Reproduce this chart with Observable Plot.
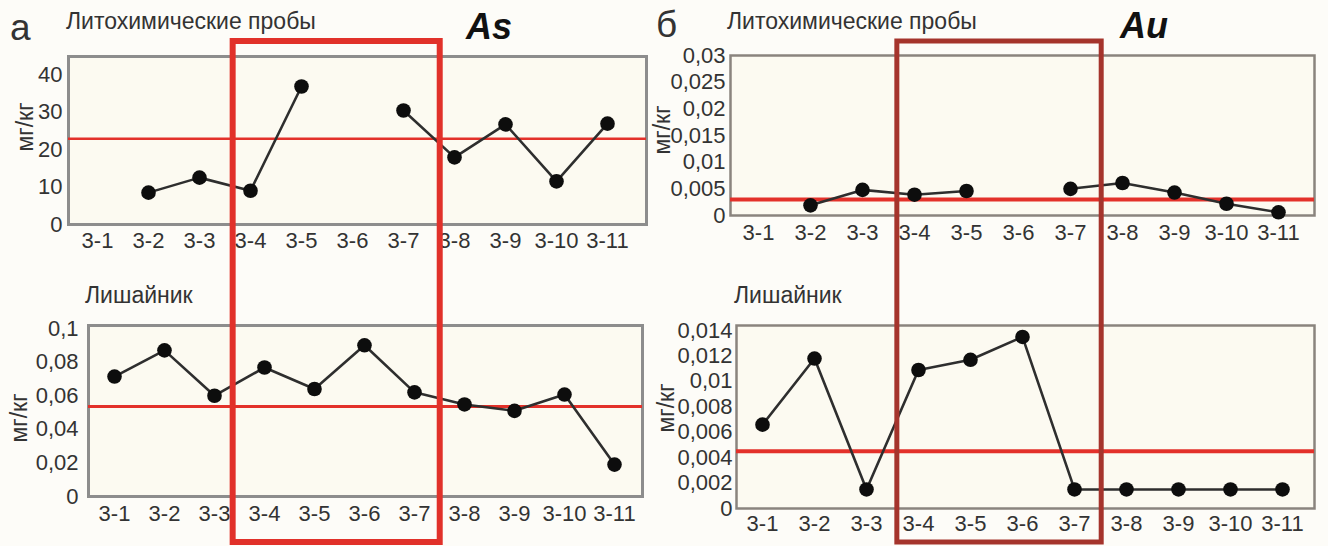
<!DOCTYPE html>
<html>
<head>
<meta charset="utf-8">
<script src="https://cdn.jsdelivr.net/npm/d3@7"></script>
<script src="https://cdn.jsdelivr.net/npm/@observablehq/plot@0.6"></script>
<style>
  html, body { margin: 0; padding: 0; background: #fdfcf8; }
  #page { position: relative; width: 1328px; height: 546px; overflow: hidden; background: #fdfcf8;
          font-family: "Liberation Sans", Arial, sans-serif; color: #333; }
  .panel { position: absolute; }
  .panel svg { overflow: visible; }
  .t { position: absolute; white-space: nowrap; line-height: 1; }
  .ylab { position: absolute; white-space: nowrap; font-size: 23px; line-height: 1;
          transform: translate(-50%, -50%) rotate(-90deg); }
</style>
</head>
<body>
<div id="page"></div>
<script>
// ---------- data ----------
const categories = ["3-1","3-2","3-3","3-4","3-5","3-6","3-7","3-8","3-9","3-10","3-11"];
// As, lithochemical samples (mg/kg); null = no sample
const asLitho  = [null, 8.5, 12.5, 9.0, 36.8, null, 30.4, 17.9, 26.7, 11.5, 26.9];
// As, lichen (mg/kg)
const asLichen = [0.0714, 0.087, 0.060, 0.0768, 0.064, 0.090, 0.062, 0.0548, 0.051, 0.0607, 0.019];
// Au, lithochemical samples (mg/kg)
const auLitho  = [null, 0.0019, 0.0048, 0.0039, 0.0046, null, 0.0050, 0.0061, 0.0043, 0.0022, 0.0006];
// Au, lichen (mg/kg)
const auLichen = [0.0066, 0.0118, 0.0015, 0.0109, 0.0117, 0.0135, 0.0015, 0.0015, 0.0015, 0.0015, 0.0015];
// background (threshold) levels, red horizontal lines
const asLithoLevel = 22.9;
const asLichenLevel = 0.0536;
const auLithoLevel = 0.003;
const auLichenLevel = 0.0045;
// tick values
const asLithoTicks  = [0, 10, 20, 30, 40];
const asLichenTicks = [0, 0.02, 0.04, 0.06, 0.08, 0.1];
const auLithoTicks  = [0, 0.005, 0.01, 0.015, 0.02, 0.025, 0.03];
const auLichenTicks = [0, 0.002, 0.004, 0.006, 0.008, 0.01, 0.012, 0.014];
// highlighted sample range
const highlight = ["3-4", "3-7"];

// ---------- helpers ----------
const page = document.getElementById("page");
const fmt = d => String(d).replace(".", ",");

function panel(cfg) {
  const data = categories.map((c, i) => ({cat: c, v: cfg.values[i]}));
  const last = data[data.length - 1];
  const marks = [
    Plot.frame({fill: cfg.frameFill, stroke: cfg.frameStroke, strokeWidth: cfg.frameWidth}),
    Plot.ruleY([cfg.level], {stroke: "#e3312a", strokeWidth: cfg.levelWidth}),
    Plot.line(data, {x: "cat", y: "v", stroke: "#2e2e2e", strokeWidth: 2.6}),
    Plot.dot(data.filter(d => d.v != null), {x: "cat", y: "v", r: 7.3, fill: "#0d0d0d", stroke: "none"})
  ];
  if (cfg.extendLast) {
    marks.splice(2, 0, Plot.ruleY([last], {x1: "cat", y: "v", stroke: "#2e2e2e", strokeWidth: 2.6}));
  }
  const chart = Plot.plot({
    width: cfg.width, height: cfg.height,
    marginLeft: cfg.ml, marginRight: cfg.mr, marginTop: cfg.mt, marginBottom: cfg.mb,
    style: {background: "transparent", fontSize: "22px", fontFamily: '"Liberation Sans", Arial, sans-serif', color: "#333", overflow: "visible"},
    x: {type: "point", domain: categories, padding: cfg.padding, align: cfg.align, label: null,
        tickSize: 0, tickPadding: cfg.xpad},
    y: {domain: [0, cfg.ymax], ticks: cfg.ticks, tickFormat: fmt, label: null,
        tickSize: 0, tickPadding: cfg.ypad},
    marks
  });
  const div = document.createElement("div");
  div.className = "panel";
  div.style.left = cfg.left + "px";
  div.style.top = cfg.top + "px";
  div.appendChild(chart);
  page.appendChild(div);
  return chart;
}

function text(str, x, y, size, extra = "") {
  const d = document.createElement("div");
  d.className = "t";
  d.textContent = str;
  d.style.cssText += `left:${x}px;top:${y}px;font-size:${size}px;${extra}`;
  page.appendChild(d);
}
function ylabel(x, y) {
  const d = document.createElement("div");
  d.className = "ylab";
  d.textContent = "мг/кг";
  d.style.left = x + "px";
  d.style.top = y + "px";
  page.appendChild(d);
}

// ---------- panels ----------
const frameFill = "#fcfaf1";
const tl = panel({values: asLitho, level: asLithoLevel, ticks: asLithoTicks, ymax: 44.8,
  left: 0, top: 0, width: 664, height: 272, ml: 68, mr: 18, mt: 56, mb: 48,
  padding: 0.6, align: 0.42, xpad: 8, ypad: 6, frameFill, frameStroke: "#8d8d8d", frameWidth: 3, levelWidth: 2.5});
const bl = panel({values: asLichen, level: asLichenLevel, ticks: asLichenTicks, ymax: 0.1018,
  left: 0, top: 272, width: 664, height: 274, ml: 88, mr: 22, mt: 53, mb: 50,
  padding: 0.5, align: 0.48, xpad: 9, ypad: 10, frameFill, frameStroke: "#8d8d8d", frameWidth: 3, levelWidth: 3});
const tr = panel({values: auLitho, level: auLithoLevel, ticks: auLithoTicks, ymax: 0.03,
  left: 664, top: 0, width: 664, height: 272, ml: 66, mr: 14, mt: 55, mb: 57,
  padding: 0.57, align: 0.43, xpad: 9, ypad: 5, frameFill, frameStroke: "#8a847e", frameWidth: 2.5, levelWidth: 4});
const br = panel({values: auLichen, level: auLichenLevel, ticks: auLichenTicks, ymax: 0.0144, extendLast: true,
  left: 664, top: 272, width: 664, height: 274, ml: 72, mr: 14, mt: 53, mb: 38,
  padding: 0.55, align: 0.45, xpad: 7, ypad: 4, frameFill, frameStroke: "#8a847e", frameWidth: 2.5, levelWidth: 4});

// ---------- texts ----------
text("а", 10, 9, 37);
text("б", 656, 6, 37);
text("Литохимические пробы", 66, 10, 23);
text("Литохимические пробы", 727, 10, 23);
text("As", 466, 9, 36, "font-weight:bold;font-style:italic;color:#111;");
text("Au", 1120, 8, 36, "font-weight:bold;font-style:italic;color:#111;");
text("Лишайник", 85, 284, 23);
text("Лишайник", 734, 284, 23);
ylabel(25, 127);
ylabel(19, 418);
ylabel(662, 130);
ylabel(666, 408);

// ---------- highlight rectangles (positions from the panels' x scales) ----------
const overlay = d3.select(page).append("svg")
  .attr("width", 1328).attr("height", 546)
  .style("position", "absolute").style("left", 0).style("top", 0).style("pointer-events", "none");
function hl(chart, offsetX, color, sw, lf, rf) {
  const sx = chart.scale("x");
  const step = sx.apply(categories[1]) - sx.apply(categories[0]);
  const x0 = offsetX + sx.apply(highlight[0]) - lf * step;
  const x1 = offsetX + sx.apply(highlight[1]) + rf * step;
  overlay.append("rect").attr("x", x0).attr("y", 41).attr("width", x1 - x0).attr("height", 501)
    .attr("fill", "none").attr("stroke", color).attr("stroke-width", sw);
}
hl(tl, 0, "#e1312a", 6, 0.34, 0.72);
hl(tr, 664, "#a5342c", 5, 0.33, 0.6);
</script>
</body>
</html>
